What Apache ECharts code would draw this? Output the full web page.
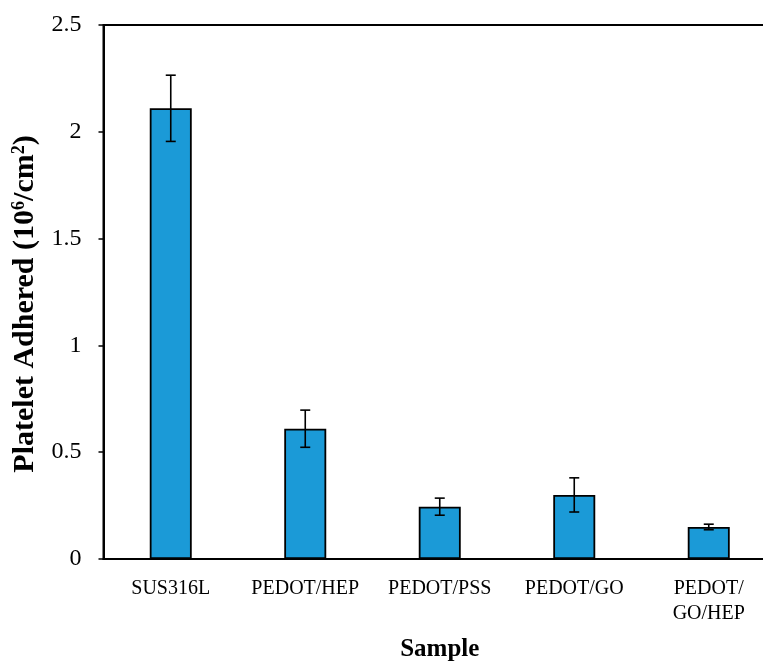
<!DOCTYPE html>
<html>
<head>
<meta charset="utf-8">
<script src="https://cdn.jsdelivr.net/npm/echarts@6/dist/echarts.min.js"></script>
<style>
  html, body { margin: 0; padding: 0; background: #fff; }
  #chart { width: 763px; height: 662px; }
</style>
</head>
<body>
<div id="chart"></div>
<script>
// Platelet adhesion per sample, with standard deviation
const categories = ['SUS316L', 'PEDOT/HEP', 'PEDOT/PSS', 'PEDOT/GO', 'PEDOT/\nGO/HEP'];
const platelets = [2.11, 0.61, 0.245, 0.30, 0.15];
const errors = [0.155, 0.087, 0.04, 0.08, 0.013];
const yTicks = [0, 0.5, 1, 1.5, 2, 2.5];

const serif = '"Liberation Serif", "Times New Roman", serif';

const errorData = categories.map((c, i) => [i, platelets[i] - errors[i], platelets[i] + errors[i]]);

const chart = echarts.init(document.getElementById('chart'));
chart.setOption({
  animation: false,
  backgroundColor: '#fff',
  grid: {
    left: 103.5, top: 25, width: 672.5, bottom: 103,
    outerBoundsMode: 'none',
    containLabel: false,
    show: true, borderColor: '#000', borderWidth: 2, backgroundColor: 'transparent'
  },
  xAxis: {
    type: 'category',
    data: categories,
    name: 'Sample',
    nameLocation: 'middle',
    nameGap: 78,
    nameTextStyle: { fontFamily: serif, fontWeight: 'bold', fontSize: 25, color: '#000' },
    axisLine: { lineStyle: { color: '#000', width: 2 } },
    axisTick: { show: false },
    axisLabel: { fontFamily: serif, fontSize: 20, color: '#000', margin: 17, lineHeight: 25, interval: 0 }
  },
  yAxis: {
    type: 'value',
    min: yTicks[0],
    max: yTicks[yTicks.length - 1],
    interval: 0.5,
    name: 'Platelet Adhered (10{sup|6}/cm{sup|2})',
    nameLocation: 'middle',
    nameGap: 59,
    nameTextStyle: {
      fontFamily: serif, fontWeight: 'bold', fontSize: 30, color: '#000',
      padding: [0, 24, 0, 0],
      rich: { sup: { fontFamily: serif, fontWeight: 'bold', fontSize: 18, color: '#000', verticalAlign: 'top', padding: [0, 0, 13, 0] } }
    },
    splitLine: { show: false },
    axisLine: { show: true, lineStyle: { color: '#000', width: 2 } },
    axisTick: { show: true, length: 5, lineStyle: { color: '#000', width: 1.5 } },
    axisLabel: { fontFamily: serif, fontSize: 24, color: '#000', margin: 22 }
  },
  series: [
    {
      type: 'bar',
      data: platelets,
      barWidth: 42,
      itemStyle: { color: '#1b9ad7', borderColor: '#000', borderWidth: 1.8 }
    },
    {
      type: 'custom',
      data: errorData,
      z: 5,
      renderItem: function (params, api) {
        const x = api.value(0);
        const lo = api.coord([x, api.value(1)]);
        const hi = api.coord([x, api.value(2)]);
        const cap = 5;
        const style = { stroke: '#000', lineWidth: 1.6 };
        return {
          type: 'group',
          children: [
            { type: 'line', shape: { x1: hi[0], y1: hi[1], x2: lo[0], y2: lo[1] }, style },
            { type: 'line', shape: { x1: hi[0] - cap, y1: hi[1], x2: hi[0] + cap, y2: hi[1] }, style },
            { type: 'line', shape: { x1: lo[0] - cap, y1: lo[1], x2: lo[0] + cap, y2: lo[1] }, style }
          ]
        };
      }
    }
  ]
});
</script>
</body>
</html>
